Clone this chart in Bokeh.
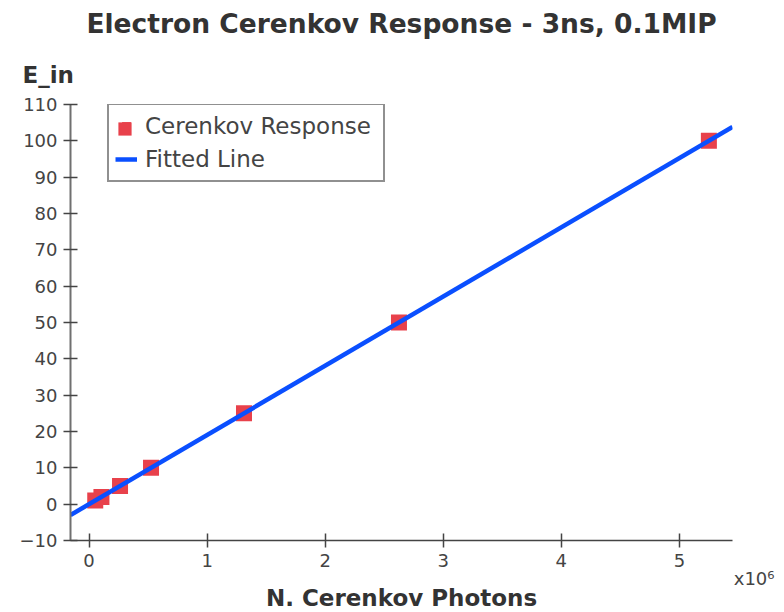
import numpy as np
from bokeh.plotting import figure
from bokeh.models import Range1d, Title, FixedTicker, CustomJSTickFormatter, Legend, LegendItem
from bokeh.embed import file_html
from bokeh.resources import INLINE

# Deposited energy vs. number of Cerenkov photons
e_in = [1, 2, 5, 10, 25, 50, 100]
n_photons = [52500, 105000, 262500, 525000, 1312500, 2625000, 5250000]
x_ticks = [0, 1e6, 2e6, 3e6, 4e6, 5e6]
y_ticks = list(range(-10, 111, 10))

slope, intercept = np.polyfit(n_photons, e_in, 1)

W, H = 784, 612
FONT = "DejaVu Sans"
TEXT = "#444444"
DARK = "#333333"
RED = "#e8414b"
BLUE = "#0a4fff"

p = figure(width=W, height=H, output_backend="svg", toolbar_location=None,
           x_range=Range1d(-157000, 5450000), y_range=Range1d(-10, 110),
           min_border_left=70, min_border_right=52, min_border_top=104,
           min_border_bottom=72)
p.title = None
p.outline_line_color = None
p.grid.visible = False
p.background_fill_color = "white"
p.border_fill_color = "white"

for ax in (p.xaxis[0], p.yaxis[0]):
    ax.axis_line_width = 1.5
    ax.major_tick_line_width = 1.5
    ax.major_tick_in = 7
    ax.major_tick_out = 7
    ax.minor_tick_line_color = None
    ax.major_label_text_font = FONT
    ax.major_label_text_font_size = "18px"
    ax.major_label_text_color = TEXT
    ax.major_label_standoff = 6
p.xaxis[0].axis_line_color = "#444444"
p.xaxis[0].major_tick_line_color = "#444444"
p.yaxis[0].axis_line_color = "#707070"
p.yaxis[0].axis_line_width = 2
p.yaxis[0].major_tick_line_color = "#444444"

p.xaxis.ticker = FixedTicker(ticks=x_ticks)
p.xaxis.formatter = CustomJSTickFormatter(code="return (tick / 1e6).toFixed(0);")
p.yaxis.ticker = FixedTicker(ticks=y_ticks)

# least-squares line spanning the full x range
x0, x1 = p.x_range.start, p.x_range.end
fit = p.line([x0, x1], [slope * x0 + intercept, slope * x1 + intercept],
             line_color=BLUE, line_width=4.5)
pts = p.scatter(n_photons, e_in, marker="square", size=16,
                fill_color=RED, line_color=None, level="underlay")

legend = Legend(items=[LegendItem(label="Cerenkov Response", renderers=[pts]),
                       LegendItem(label="Fitted Line", renderers=[fit])],
                location=(37, 358), border_line_color="#222222", border_line_width=2,
                label_text_font=FONT, label_text_font_size="23px", label_text_color=TEXT,
                glyph_width=22, glyph_height=30, label_height=30, label_width=232,
                spacing=3, padding=6, margin=0, label_standoff=8)
p.add_layout(legend)

# larger square swatch laid over the first legend entry
swatch = Legend(items=[LegendItem(label=" ", renderers=[pts])],
                location=(37.5, 395.5), border_line_color=None,
                background_fill_alpha=0, label_text_font_size="1px",
                glyph_width=33, glyph_height=33, label_height=33, label_width=0,
                padding=0, margin=0, label_standoff=0)
p.add_layout(swatch)

# texts above the plot: y-axis name (inner), then the main title (outer)
p.add_layout(Title(text="E_in", align="left", offset=-48, standoff=34,
                   text_font=FONT, text_font_size="23px", text_font_style="bold",
                   text_color=DARK), "above")
p.add_layout(Title(text="Electron Cerenkov Response - 3ns, 0.1MIP", align="center",
                   standoff=8, text_font=FONT, text_font_size="26.5px",
                   text_font_style="bold", text_color=DARK), "above")

# texts below the plot: axis multiplier (inner), then the x-axis name (outer)
p.add_layout(Title(text="x10\u2076", align="right", offset=-42, standoff=-8,
                   text_font=FONT, text_font_size="18px", text_font_style="normal",
                   text_color=TEXT), "below")
p.add_layout(Title(text="N. Cerenkov Photons", align="center", standoff=-4,
                   text_font=FONT, text_font_size="23px", text_font_style="bold",
                   text_color=DARK), "below")

open("out.html", "w").write(file_html(p, INLINE))
